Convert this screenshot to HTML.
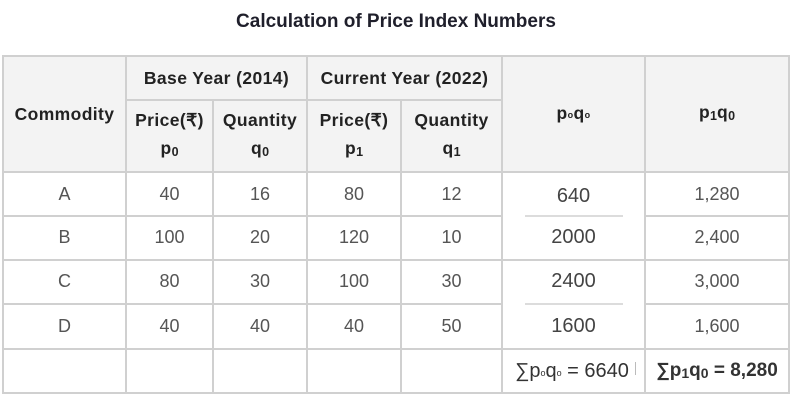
<!DOCTYPE html>
<html>
<head>
<meta charset="utf-8">
<style>
  html,body{margin:0;padding:0;background:#fff;}
  body{width:790px;height:400px;position:relative;overflow:hidden;font-family:"Liberation Sans",Arial,sans-serif;}
  .t{position:absolute;left:0;width:790px;text-align:center;}
  .bg{position:absolute;background:#f3f3f3;}
  .h{position:absolute;background:#d0d0d0;height:2px;}
  .v{position:absolute;background:#d0d0d0;width:2px;}
  .c{position:absolute;display:flex;align-items:center;justify-content:center;text-align:center;}
  .hd{font-weight:bold;font-size:17.5px;letter-spacing:0.4px;color:#222;line-height:28px;}
  .d{font-size:18px;color:#555;}
  .dk{font-size:20px;color:#444;}
  .sb{font-size:12.5px;vertical-align:-2px;letter-spacing:0;}
  .tiny{font-size:9px;vertical-align:1px;}
</style>
</head>
<body>
<div class="t" style="top:11px;height:22px;line-height:22px;font-size:19px;font-weight:bold;color:#1f1f2b;left:1px;">Calculation of Price Index Numbers</div>

<!-- header background -->
<div class="bg" style="left:3px;top:56px;width:786px;height:116px;"></div>

<!-- horizontal lines -->
<div class="h" style="left:2px;top:55px;width:788px;"></div>
<div class="h" style="left:126px;top:98.5px;width:376px;"></div>
<div class="h" style="left:2px;top:171px;width:788px;"></div>
<div class="h" style="left:2px;top:215px;width:500px;"></div>
<div class="h" style="left:645px;top:215px;width:145px;"></div>
<div class="h" style="left:525px;top:215px;width:98px;background:#dcdcdc;"></div>
<div class="h" style="left:2px;top:258.5px;width:788px;"></div>
<div class="h" style="left:2px;top:303px;width:500px;"></div>
<div class="h" style="left:645px;top:303px;width:145px;"></div>
<div class="h" style="left:525px;top:303px;width:98px;background:#dcdcdc;"></div>
<div class="h" style="left:2px;top:348px;width:788px;"></div>
<div class="h" style="left:2px;top:392px;width:788px;"></div>

<!-- vertical lines -->
<div class="v" style="left:2px;top:55px;height:339px;"></div>
<div class="v" style="left:125px;top:55px;height:339px;"></div>
<div class="v" style="left:212px;top:99px;height:295px;"></div>
<div class="v" style="left:306px;top:55px;height:339px;"></div>
<div class="v" style="left:400px;top:99px;height:295px;"></div>
<div class="v" style="left:501px;top:55px;height:339px;"></div>
<div class="v" style="left:644px;top:55px;height:339px;"></div>
<div class="v" style="left:788px;top:55px;height:339px;"></div>

<!-- headers -->
<div class="c hd" style="left:3px;top:56px;width:123px;height:116px;">Commodity</div>
<div class="c hd" style="left:126px;top:56px;width:181px;height:43px;">Base Year (2014)</div>
<div class="c hd" style="left:307px;top:56px;width:195px;height:43px;">Current Year (2022)</div>
<div class="c hd" style="left:126px;top:100px;width:87px;height:72px;"><div>Price(₹)<br>p<span class="sb">0</span></div></div>
<div class="c hd" style="left:213px;top:100px;width:94px;height:72px;"><div>Quantity<br>q<span class="sb">0</span></div></div>
<div class="c hd" style="left:307px;top:100px;width:94px;height:72px;"><div>Price(₹)<br>p<span class="sb">1</span></div></div>
<div class="c hd" style="left:401px;top:100px;width:101px;height:72px;"><div>Quantity<br>q<span class="sb">1</span></div></div>
<div class="c hd" style="left:502px;top:56px;width:143px;height:116px;"><div>p<span class="tiny">o</span>q<span class="tiny">o</span></div></div>
<div class="c hd" style="left:645px;top:56px;width:144px;height:116px;"><div>p<span class="sb">1</span>q<span class="sb">0</span></div></div>

<!-- row A -->
<div class="c d" style="left:3px;top:172px;width:123px;height:44px;">A</div>
<div class="c d" style="left:126px;top:172px;width:87px;height:44px;">40</div>
<div class="c d" style="left:213px;top:172px;width:94px;height:44px;">16</div>
<div class="c d" style="left:307px;top:172px;width:94px;height:44px;">80</div>
<div class="c d" style="left:401px;top:172px;width:101px;height:44px;">12</div>
<div class="c dk" style="left:502px;top:174px;width:143px;height:44px;">640</div>
<div class="c d" style="left:645px;top:172px;width:144px;height:44px;">1,280</div>

<!-- row B -->
<div class="c d" style="left:3px;top:216px;width:123px;height:43px;">B</div>
<div class="c d" style="left:126px;top:216px;width:87px;height:43px;">100</div>
<div class="c d" style="left:213px;top:216px;width:94px;height:43px;">20</div>
<div class="c d" style="left:307px;top:216px;width:94px;height:43px;">120</div>
<div class="c d" style="left:401px;top:216px;width:101px;height:43px;">10</div>
<div class="c dk" style="left:502px;top:216px;width:143px;height:43px;">2000</div>
<div class="c d" style="left:645px;top:216px;width:144px;height:43px;">2,400</div>

<!-- row C -->
<div class="c d" style="left:3px;top:259px;width:123px;height:45px;">C</div>
<div class="c d" style="left:126px;top:259px;width:87px;height:45px;">80</div>
<div class="c d" style="left:213px;top:259px;width:94px;height:45px;">30</div>
<div class="c d" style="left:307px;top:259px;width:94px;height:45px;">100</div>
<div class="c d" style="left:401px;top:259px;width:101px;height:45px;">30</div>
<div class="c dk" style="left:502px;top:259px;width:143px;height:45px;">2400</div>
<div class="c d" style="left:645px;top:259px;width:144px;height:45px;">3,000</div>

<!-- row D -->
<div class="c d" style="left:3px;top:304px;width:123px;height:45px;">D</div>
<div class="c d" style="left:126px;top:304px;width:87px;height:45px;">40</div>
<div class="c d" style="left:213px;top:304px;width:94px;height:45px;">40</div>
<div class="c d" style="left:307px;top:304px;width:94px;height:45px;">40</div>
<div class="c d" style="left:401px;top:304px;width:101px;height:45px;">50</div>
<div class="c dk" style="left:502px;top:304px;width:143px;height:45px;">1600</div>
<div class="c d" style="left:645px;top:304px;width:144px;height:45px;">1,600</div>

<!-- sums -->
<div class="c" style="left:502px;top:349px;width:140px;height:44px;font-size:20px;color:#333;"><div>∑p<span class="tiny">o</span>q<span class="tiny">o</span> = 6640</div></div>
<div style="position:absolute;left:635px;top:362px;width:1px;height:13px;background:#bbb;"></div>
<div class="c" style="left:645px;top:349px;width:144px;height:44px;font-size:19px;font-weight:bold;color:#333;"><div>∑p<span class="sb" style="font-size:14px;">1</span>q<span class="sb" style="font-size:14px;">0</span> = 8,280</div></div>
</body>
</html>
